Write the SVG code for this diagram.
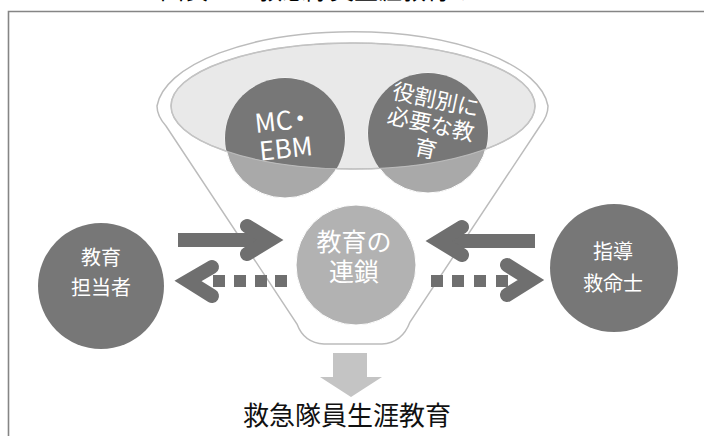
<svg xmlns="http://www.w3.org/2000/svg" width="704" height="436" viewBox="0 0 704 436">
<style>
.t{font-family:"Noto Sans CJK JP","Noto Sans",sans-serif;}
.w{fill:#ffffff;text-anchor:middle;}
.dark{fill:#777777;}
.arm{fill:none;stroke:#6f6f6f;stroke-width:14;stroke-linecap:round;stroke-linejoin:miter;stroke-miterlimit:10;}
.shaft{stroke:#6f6f6f;stroke-width:14;stroke-linecap:butt;}
.dot{fill:#6f6f6f;}
</style>
<defs>
<clipPath id="ellClip"><ellipse cx="353" cy="106" rx="182" ry="63"/></clipPath>
</defs>
<rect width="704" height="436" fill="#ffffff"/>
<text class="t" x="160" y="-1.5" font-size="24" fill="#000000"><tspan>図表1</tspan><tspan x="258">救急隊員生涯教育のイメージ</tspan></text>
<path d="M8.5 436 V11.5 H704" fill="none" stroke="#858585" stroke-width="1.6"/>

<g id="funnel">
<path d="M157 106 A196 80 0 0 1 548 106 Q548 116 540 126 L410 322 Q402 343 382 344 L324 344 Q304 343 297 324 L166 126 Q157 116 157 106 Z" fill="#ffffff" stroke="#bcbcbc" stroke-width="1.5"/>
<ellipse cx="353" cy="106" rx="182" ry="63" fill="#e9e9e9" stroke="#bcbcbc" stroke-width="1.5"/>
</g>

<g id="node-mc-ebm">
<circle cx="285" cy="138" r="60" fill="#a9a9a9" stroke="#ffffff" stroke-width="1"/>
<circle cx="285" cy="138" r="60" class="dark" clip-path="url(#ellClip)"/>
<g transform="rotate(-6 285 140)">
<text class="t w" x="286" y="130" font-size="26">MC<tspan dx="-5">・</tspan></text>
<text class="t w" x="285" y="158" font-size="26">EBM</text>
</g>
</g>

<g id="node-role">
<circle cx="428" cy="133" r="60" fill="#a9a9a9" stroke="#ffffff" stroke-width="1"/>
<circle cx="428" cy="133" r="60" class="dark" clip-path="url(#ellClip)"/>
<g transform="rotate(12 430 128)">
<text class="t w" x="430" y="107" font-size="22">役割別に</text>
<text class="t w" x="430" y="132" font-size="22">必要な教</text>
<text class="t w" x="430" y="157" font-size="22">育</text>
</g>
</g>

<ellipse cx="353" cy="106" rx="182" ry="63" fill="none" stroke="#c6c6c6" stroke-width="1.2" opacity="0.8"/>

<g id="node-chain">
<circle cx="356" cy="265" r="60" fill="#b2b2b2" stroke="#ffffff" stroke-width="1"/>
<text class="t w" x="354" y="251" font-size="25">教育の</text>
<text class="t w" x="354" y="281" font-size="25">連鎖</text>
</g>

<g id="node-educator">
<circle cx="101" cy="286" r="63" fill="#777777"/>
<text class="t w" x="101" y="265" font-size="20">教育</text>
<text class="t w" x="101" y="295" font-size="20">担当者</text>
</g>

<g id="node-instructor">
<circle cx="614" cy="268" r="64" fill="#777777"/>
<text class="t w" x="613" y="259" font-size="20">指導</text>
<text class="t w" x="613" y="291" font-size="20">救命士</text>
</g>

<g id="connectors">
<line class="shaft" x1="178" y1="240" x2="266" y2="240"/>
<polyline class="arm" points="247,226 270,240 247,254"/>
<line class="shaft" x1="535" y1="241" x2="444" y2="241"/>
<polyline class="arm" points="462,227 439,241 462,255"/>
<rect class="dot" x="213" y="275" width="12" height="12"/>
<rect class="dot" x="234" y="275" width="12" height="12"/>
<rect class="dot" x="255" y="275" width="12" height="12"/>
<rect class="dot" x="275" y="275" width="12" height="12"/>
<polyline class="arm" points="212,267 188,281 212,296"/>
<rect class="dot" x="431" y="275" width="12" height="12"/>
<rect class="dot" x="452" y="275" width="12" height="12"/>
<rect class="dot" x="474" y="275" width="12" height="12"/>
<rect class="dot" x="496" y="275" width="12" height="12"/>
<polyline class="arm" points="507,265 531,280 507,295"/>
<polygon points="333,353 367,353 367,377 382,377 351,397 320,377 333,377" fill="#c4c4c4"/>
</g>

<text class="t" x="347" y="425" font-size="26" fill="#111111" text-anchor="middle">救急隊員生涯教育</text>
</svg>
